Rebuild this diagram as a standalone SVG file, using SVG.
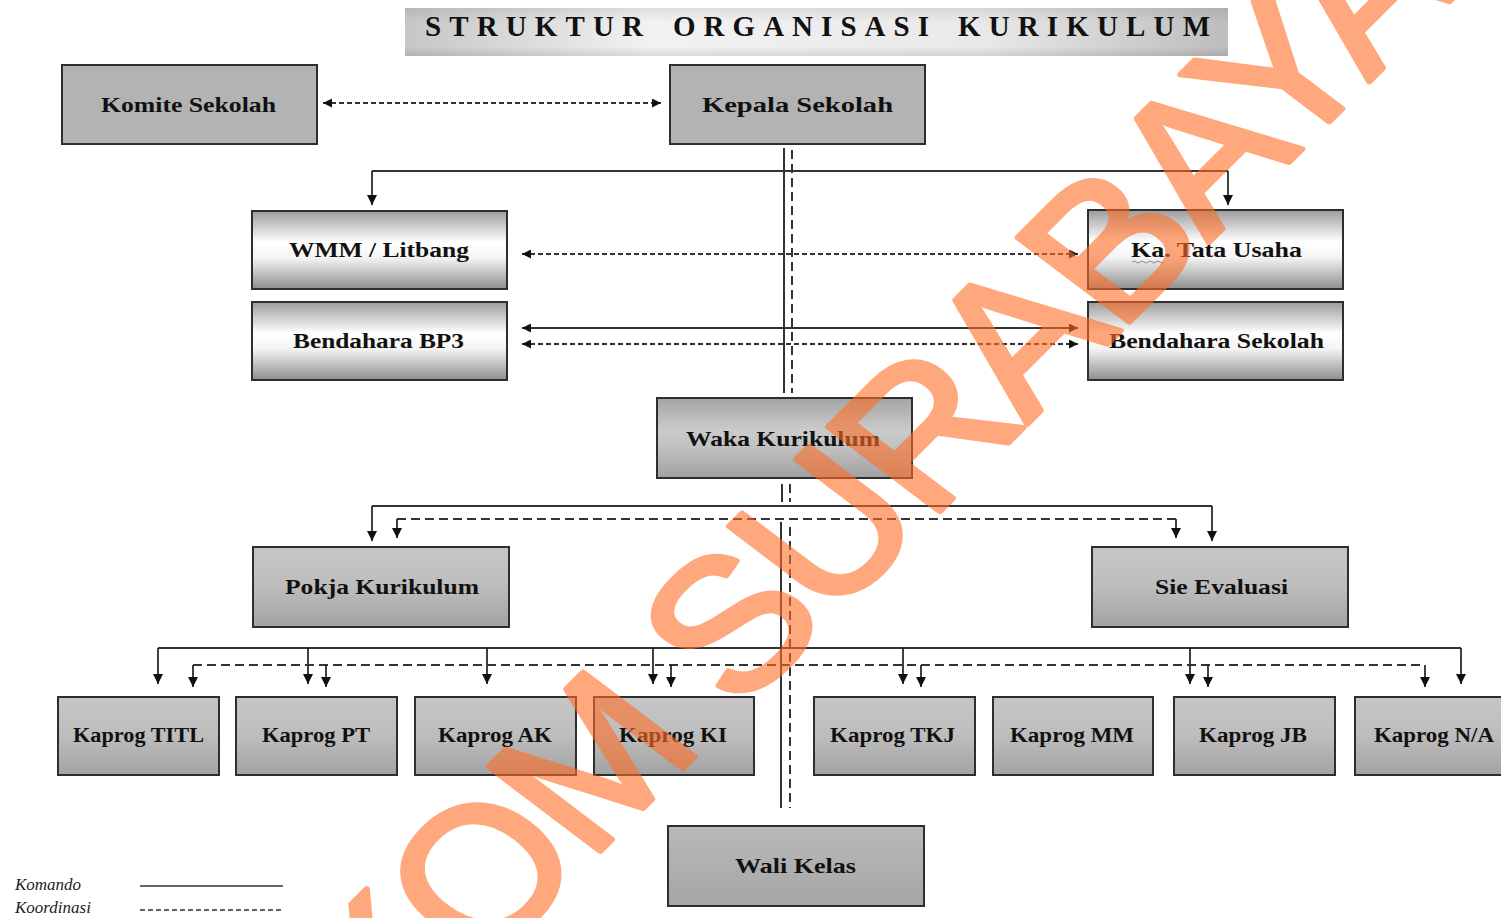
<svg xmlns="http://www.w3.org/2000/svg" width="1501" height="918" viewBox="0 0 1501 918">
<defs>
<linearGradient id="gTitle" x1="0" y1="0" x2="1" y2="0">
<stop offset="0" stop-color="#c6c6c6"/><stop offset="0.3" stop-color="#f2f2f2"/><stop offset="0.7" stop-color="#e9e9e9"/><stop offset="1" stop-color="#bdbdbd"/>
</linearGradient>
<linearGradient id="gTitleV" x1="0" y1="0" x2="0" y2="1">
<stop offset="0" stop-color="#000" stop-opacity="0.08"/><stop offset="0.3" stop-color="#000" stop-opacity="0"/><stop offset="0.8" stop-color="#000" stop-opacity="0"/><stop offset="1" stop-color="#000" stop-opacity="0.1"/>
</linearGradient>
<linearGradient id="gMetal" x1="0" y1="0" x2="0" y2="1">
<stop offset="0" stop-color="#9c9c9c"/><stop offset="0.4" stop-color="#ffffff"/><stop offset="0.6" stop-color="#f4f4f4"/><stop offset="1" stop-color="#8e8e8e"/>
</linearGradient>
<linearGradient id="gWaka" x1="0" y1="0" x2="0" y2="1">
<stop offset="0" stop-color="#a4a4a4"/><stop offset="0.4" stop-color="#cbcbcb"/><stop offset="0.6" stop-color="#c2c2c2"/><stop offset="1" stop-color="#a0a0a0"/>
</linearGradient>
<linearGradient id="gDown" x1="0" y1="0" x2="0" y2="1">
<stop offset="0" stop-color="#c6c6c6"/><stop offset="0.5" stop-color="#bdbdbd"/><stop offset="1" stop-color="#a2a2a2"/>
</linearGradient>
<linearGradient id="gWali" x1="0" y1="0" x2="0" y2="1">
<stop offset="0" stop-color="#b9b9b9"/><stop offset="1" stop-color="#a6a6a6"/>
</linearGradient>
<marker id="ah" viewBox="0 0 10 10" refX="10" refY="5" markerWidth="9" markerHeight="9" markerUnits="userSpaceOnUse" orient="auto-start-reverse">
<path d="M0,0 L10,5 L0,10 z" fill="#111"/>
</marker>
<marker id="ahL" viewBox="0 0 10 10" refX="10" refY="5" markerWidth="11" markerHeight="10" markerUnits="userSpaceOnUse" orient="auto-start-reverse">
<path d="M0,0 L10,5 L0,10 z" fill="#111"/>
</marker>
</defs>
<style>
.box{stroke:#2e2e2e;stroke-width:2}
.flat{fill:#b3b3b3}
.metal{fill:url(#gMetal)}
.waka{fill:url(#gWaka)}
.down{fill:url(#gDown)}
.wali{fill:url(#gWali)}
.lbl{font-family:"Liberation Serif","Times New Roman",serif;font-weight:bold;font-size:22px;fill:#111;text-anchor:middle}
.kp{font-size:20px}
.ttl{font-family:"Liberation Serif","Times New Roman",serif;font-weight:bold;font-size:29px;fill:#111}
.solid{fill:none;stroke:#333;stroke-width:2}
.dash{fill:none;stroke:#333;stroke-width:2;stroke-dasharray:5 3}
.dashL{fill:none;stroke:#333;stroke-width:2;stroke-dasharray:9 5}
.stub{fill:none;stroke:#111;stroke-width:1.6}
.leg{font-family:"Liberation Serif","Times New Roman",serif;font-style:italic;font-size:17px;fill:#222}
</style>
<rect width="1501" height="918" fill="#ffffff"/>

<g id="title">
<rect x="405" y="8" width="823" height="48" fill="url(#gTitle)"/>
<rect x="405" y="8" width="823" height="48" fill="url(#gTitleV)"/>
<text class="ttl" x="425" y="36" textLength="218" lengthAdjust="spacing">STRUKTUR</text>
<text class="ttl" x="673" y="36" textLength="256" lengthAdjust="spacing">ORGANISASI</text>
<text class="ttl" x="958" y="36" textLength="252" lengthAdjust="spacing">KURIKULUM</text>
</g>

<g id="connectors">
<path class="dash" d="M323 103 H661" marker-start="url(#ah)" marker-end="url(#ah)"/>
<path class="solid" d="M784 148 V393"/>
<path class="dashL" d="M792 150 V393"/>
<path class="solid" d="M372 171 H1228"/>
<path class="stub" d="M372 171 V205" marker-end="url(#ahL)"/>
<path class="stub" d="M1228 171 V205" marker-end="url(#ahL)"/>
<path class="dash" d="M522 254 H1078" marker-start="url(#ah)" marker-end="url(#ah)"/>
<path class="solid" d="M522 328 H1078" marker-start="url(#ah)" marker-end="url(#ah)"/>
<path class="dash" d="M522 344 H1078" marker-start="url(#ah)" marker-end="url(#ah)"/>
<path class="solid" d="M782 484 V502"/>
<path class="dashL" d="M790 484 V502"/>
<path class="solid" d="M372 506 H1212"/>
<path class="stub" d="M372 506 V541" marker-end="url(#ahL)"/>
<path class="stub" d="M1212 506 V541" marker-end="url(#ahL)"/>
<path class="dashL" d="M397 519 H1176"/>
<path class="stub" d="M397 519 V538" marker-end="url(#ahL)"/>
<path class="stub" d="M1176 519 V538" marker-end="url(#ahL)"/>
<path class="solid" d="M781 522 V808"/>
<path class="dashL" d="M790 527 V808"/>
<path class="solid" d="M158 648 H1461"/>
<path class="stub" d="M158 648 V684" marker-end="url(#ahL)"/>
<path class="stub" d="M308 648 V684" marker-end="url(#ahL)"/>
<path class="stub" d="M487 648 V684" marker-end="url(#ahL)"/>
<path class="stub" d="M653 648 V684" marker-end="url(#ahL)"/>
<path class="stub" d="M903 648 V684" marker-end="url(#ahL)"/>
<path class="stub" d="M1190 648 V684" marker-end="url(#ahL)"/>
<path class="stub" d="M1461 648 V684" marker-end="url(#ahL)"/>
<path class="dashL" d="M193 665 H1425"/>
<path class="stub" d="M193 665 V687" marker-end="url(#ahL)"/>
<path class="stub" d="M326 665 V687" marker-end="url(#ahL)"/>
<path class="stub" d="M671 665 V687" marker-end="url(#ahL)"/>
<path class="stub" d="M921 665 V687" marker-end="url(#ahL)"/>
<path class="stub" d="M1208 665 V687" marker-end="url(#ahL)"/>
<path class="stub" d="M1425 665 V687" marker-end="url(#ahL)"/>
</g>

<g id="komite"><rect class="box flat" x="62" y="65" width="255" height="79"/><text class="lbl" x="188.5" y="112" textLength="175" lengthAdjust="spacingAndGlyphs">Komite Sekolah</text></g>
<g id="kepala"><rect class="box flat" x="670" y="65" width="255" height="79"/><text class="lbl" x="797.5" y="112" font-size="24" textLength="191" lengthAdjust="spacingAndGlyphs">Kepala Sekolah</text></g>
<g id="wmm"><rect class="box metal" x="252" y="211" width="255" height="78"/><text class="lbl" x="379" y="257" textLength="180" lengthAdjust="spacingAndGlyphs">WMM / Litbang</text></g>
<g id="katu"><rect class="box metal" x="1088" y="210" width="255" height="79"/><text class="lbl" x="1216.5" y="257" textLength="171" lengthAdjust="spacingAndGlyphs">Ka. Tata Usaha</text><path d="M1132 262 q2 -2 4 0 t4 0 t4 0 t4 0 t4 0 t4 0 t4 0 t4 0" fill="none" stroke="#8a8a8a" stroke-width="1"/></g>
<g id="bp3"><rect class="box metal" x="252" y="302" width="255" height="78"/><text class="lbl" x="378.5" y="348" textLength="171" lengthAdjust="spacingAndGlyphs">Bendahara BP3</text></g>
<g id="bendahara-sekolah"><rect class="box metal" x="1088" y="302" width="255" height="78"/><text class="lbl" x="1216.5" y="348" textLength="215" lengthAdjust="spacingAndGlyphs">Bendahara Sekolah</text></g>
<g id="waka"><rect class="box waka" x="657" y="398" width="255" height="80"/><text class="lbl" x="783" y="446" textLength="194" lengthAdjust="spacingAndGlyphs">Waka Kurikulum</text></g>
<g id="pokja"><rect class="box down" x="253" y="547" width="256" height="80"/><text class="lbl" x="382" y="594" textLength="194" lengthAdjust="spacingAndGlyphs">Pokja Kurikulum</text></g>
<g id="sie"><rect class="box down" x="1092" y="547" width="256" height="80"/><text class="lbl" x="1221.5" y="594" textLength="133" lengthAdjust="spacingAndGlyphs">Sie Evaluasi</text></g>
<g id="kaprog-titl"><rect class="box down" x="58" y="697" width="161" height="78"/><text class="lbl kp" x="138.5" y="742" textLength="131" lengthAdjust="spacingAndGlyphs">Kaprog TITL</text></g>
<g id="kaprog-pt"><rect class="box down" x="236" y="697" width="161" height="78"/><text class="lbl kp" x="316" y="742" textLength="108" lengthAdjust="spacingAndGlyphs">Kaprog PT</text></g>
<g id="kaprog-ak"><rect class="box down" x="415" y="697" width="161" height="78"/><text class="lbl kp" x="495" y="742" textLength="114" lengthAdjust="spacingAndGlyphs">Kaprog AK</text></g>
<g id="kaprog-ki"><rect class="box down" x="594" y="697" width="160" height="78"/><text class="lbl kp" x="673" y="742" textLength="108" lengthAdjust="spacingAndGlyphs">Kaprog KI</text></g>
<g id="kaprog-tkj"><rect class="box down" x="814" y="697" width="161" height="78"/><text class="lbl kp" x="892.5" y="742" textLength="125" lengthAdjust="spacingAndGlyphs">Kaprog TKJ</text></g>
<g id="kaprog-mm"><rect class="box down" x="993" y="697" width="160" height="78"/><text class="lbl kp" x="1072" y="742" textLength="124" lengthAdjust="spacingAndGlyphs">Kaprog MM</text></g>
<g id="kaprog-jb"><rect class="box down" x="1174" y="697" width="161" height="78"/><text class="lbl kp" x="1253" y="742" textLength="108" lengthAdjust="spacingAndGlyphs">Kaprog JB</text></g>
<g id="kaprog-na"><rect class="box down" x="1355" y="697" width="150" height="78"/><text class="lbl kp" x="1434" y="742" textLength="120" lengthAdjust="spacingAndGlyphs">Kaprog N/A</text></g>
<g id="wali"><rect class="box wali" x="668" y="826" width="256" height="80"/><text class="lbl" x="795.5" y="873" textLength="121" lengthAdjust="spacingAndGlyphs">Wali Kelas</text></g>

<g id="legend">
<text class="leg" x="15" y="890">Komando</text>
<path d="M140 886 H283" stroke="#333" stroke-width="1.6"/>
<text class="leg" x="15" y="913">Koordinasi</text>
<path d="M140 910 H283" stroke="#333" stroke-width="1.6" stroke-dasharray="5 3"/>
</g>

<g id="watermark" opacity="0.6">
<text transform="translate(182 1270) scale(1 0.87) rotate(-49)" x="0" y="0" font-family="'Liberation Sans',Arial,sans-serif" font-size="215" letter-spacing="-5" fill="#ff6e28" stroke="#ff6e28" stroke-width="6" stroke-linejoin="round">STIKOM SURABAYA</text>
</g>
</svg>
